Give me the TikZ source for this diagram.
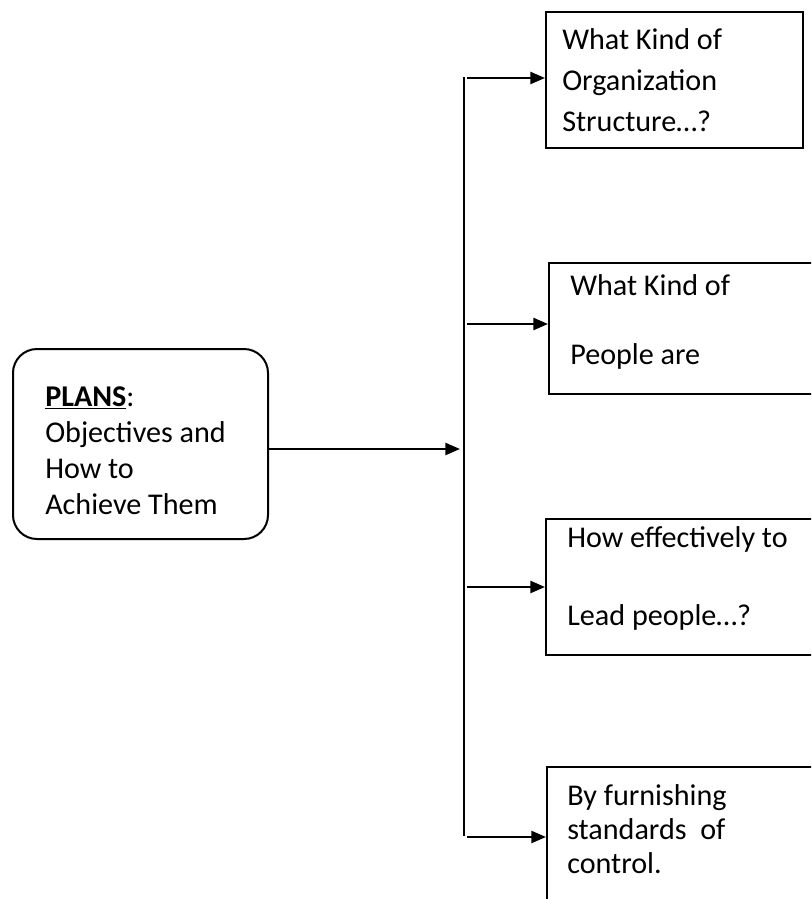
\documentclass[tikz,border=0pt]{standalone}
\usepackage{fontspec}
\setmainfont{Carlito}
\usetikzlibrary{arrows.meta}
\newcommand{\boxlines}[2]{\parbox[t]{230pt}{\raggedright\baselineskip=#1 #2}}
\begin{document}
\begin{tikzpicture}[x=0.75pt,y=-0.75pt,
  box/.style={draw, line width=1.5pt, inner sep=0pt, anchor=north west},
  flow/.style={line width=1.8pt, -{Triangle[length=11pt,width=9pt]}},
  bus/.style={line width=1.8pt},
  txt/.style={anchor=base west, inner sep=0pt, font=\fontsize{22.6}{27}\selectfont}]
\useasboundingbox (0,0) rectangle (811,899);
\clip (0,0) rectangle (811,899);

% frames
\node[box, rounded corners=18pt, minimum width=191.25pt, minimum height=142.5pt] (plan) at (12,348) {};
\node[box, minimum width=192.75pt, minimum height=102pt] (b1) at (545,11) {};
\node[box, minimum width=225pt, minimum height=98.25pt] (b2) at (548,262) {};
\node[box, minimum width=225pt, minimum height=102pt] (b3) at (545,518) {};
\node[box, minimum width=225pt, minimum height=120pt] (b4) at (546,766) {};

% texts
\node[txt] (tplan) at (45,406) {\boxlines{27pt}{\underline{\textbf{PLANS}}:\\Objectives and\\How to\\Achieve Them}};
\node[txt] (t1) at (562,50) {\boxlines{30.75pt}{What Kind of\\Organization\\Structure…?}};
\node[txt] (t2) at (570,295) {\boxlines{51.75pt}{What Kind of\\People are}};
\node[txt] (t3) at (567,547) {\boxlines{58.5pt}{How effectively to\\Lead people…?}};
\node[txt] (t4) at (567,805) {\boxlines{25.5pt}{By furnishing\\standards~ of\\control.}};

% connectors
\coordinate (hub) at (460,449);
\draw[flow] (plan.east |- hub) -- (hub);
\coordinate (bustop) at (464,77);
\coordinate (busbot) at (464,836);
\draw[bus] (bustop) -- (busbot);
\coordinate (s1) at (467,78);
\coordinate (s2) at (467,324);
\coordinate (s3) at (467,587);
\coordinate (s4) at (467,837);
\draw[flow] (s1) -- (s1 -| b1.west);
\draw[flow] (s2) -- (s2 -| b2.west);
\draw[flow] (s3) -- (s3 -| b3.west);
\draw[flow] (s4) -- (s4 -| b4.west);
\end{tikzpicture}
\end{document}
